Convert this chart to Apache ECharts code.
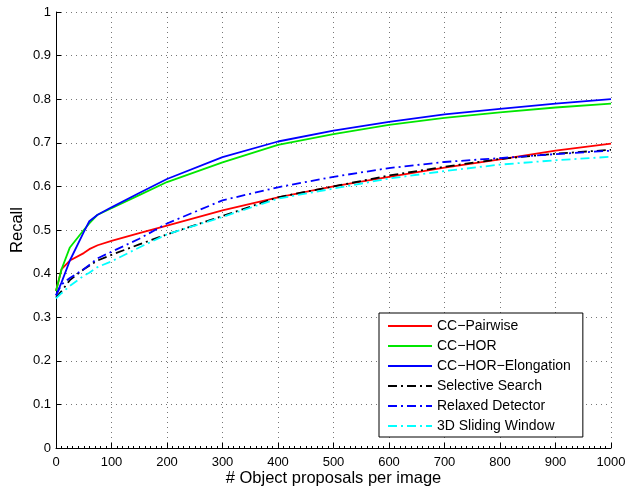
<!DOCTYPE html>
<html>
<head>
<meta charset="utf-8">
<script src="https://cdn.jsdelivr.net/npm/echarts@6/dist/echarts.min.js"></script>
<style>html,body{margin:0;padding:0;background:#fff;}#c{width:625px;height:489px;}</style>
</head>
<body>
<div id="c"></div>
<script>
const xs = [0,10,25,50,60,75,100,150,200,300,400,500,600,700,800,900,1000];
const ccPairwise = [0.36,0.41,0.43,0.447,0.456,0.465,0.475,0.493,0.51,0.545,0.575,0.60,0.622,0.643,0.662,0.682,0.698];
const ccHor = [0.36,0.41,0.46,0.50,0.515,0.535,0.55,0.58,0.61,0.655,0.695,0.72,0.741,0.757,0.77,0.781,0.79];
const ccHorElong = [0.35,0.38,0.43,0.495,0.52,0.535,0.552,0.585,0.617,0.667,0.703,0.728,0.748,0.765,0.778,0.79,0.80];
const selSearch = [0.345,0.36,0.385,0.41,0.418,0.43,0.443,0.467,0.49,0.532,0.575,0.60,0.625,0.645,0.663,0.675,0.684];
const relaxed = [0.35,0.375,0.39,0.41,0.42,0.435,0.45,0.48,0.515,0.568,0.598,0.622,0.642,0.656,0.665,0.674,0.682];
const sliding3d = [0.343,0.355,0.372,0.395,0.402,0.415,0.428,0.46,0.49,0.53,0.572,0.595,0.618,0.635,0.65,0.66,0.668];
const seriesNames = ['CC\u2212Pairwise','CC\u2212HOR','CC\u2212HOR\u2212Elongation','Selective Search','Relaxed Detector','3D Sliding Window'];

const FONT = 'Liberation Sans, Arial, Helvetica, sans-serif';
const dashDot = [9,4,2,4];
function mk(name, vals, color, dash) {
  return {
    name: name, type: 'line', symbol: 'none', showSymbol: false,
    data: xs.map((x,i)=>[x, vals[i]]),
    lineStyle: {color: color, width: 1.8, type: dash ? dashDot : 'solid'},
    itemStyle: {color: color},
    z: 3
  };
}
const chart = echarts.init(document.getElementById('c'), null, {renderer:'canvas'});
chart.setOption({
  animation: false,
  backgroundColor: '#fff',
  grid: {left: 56, right: 14, top: 12, bottom: 41, containLabel: false, outerBoundsMode: 'none'},
  xAxis: {
    type: 'value', min: 0, max: 1000, interval: 100,
    name: '# Object proposals per image', nameLocation: 'middle', nameGap: 22,
    nameMoveOverlap: false,
    nameTextStyle: {fontFamily: FONT, fontSize: 16.5, color: '#000'},
    axisLine: {show: true, onZero: false, lineStyle: {color: '#000', width: 1}},
    axisTick: {show: true, inside: true, length: 5, lineStyle: {color: '#000'}},
    minorTick: {show: true, splitNumber: 10, length: 2, lineStyle: {color: '#000'}},
    axisLabel: {fontFamily: FONT, fontSize: 13, color: '#000', margin: 8,
      formatter: v => String(Math.round(v))},
    splitLine: {show: true, lineStyle: {color: '#777', type: [1,4], width: 1}}
  },
  yAxis: {
    type: 'value', min: 0, max: 1, interval: 0.1,
    name: 'Recall', nameLocation: 'middle', nameGap: 30,
    nameMoveOverlap: false,
    nameTextStyle: {fontFamily: FONT, fontSize: 16.5, color: '#000'},
    axisLine: {show: true, onZero: false, lineStyle: {color: '#000', width: 1}},
    axisTick: {show: true, inside: true, length: 5, lineStyle: {color: '#000'}},
    axisLabel: {fontFamily: FONT, fontSize: 13, color: '#000', margin: 5,
      formatter: v => (Math.round(v*10)/10).toString()},
    splitLine: {show: true, lineStyle: {color: '#777', type: [1,4], width: 1}}
  },
  legend: {
    orient: 'vertical', left: 379, top: 313,
    padding: [6, 12, 4, 8],
    itemGap: 6, itemWidth: 44, itemHeight: 14,
    borderColor: '#000', borderWidth: 1, backgroundColor: '#fff',
    itemStyle: {opacity: 0},
    textStyle: {fontFamily: FONT, fontSize: 14, color: '#000'},
    data: seriesNames
  },
  series: [
    mk(seriesNames[0], ccPairwise, '#ff0000', false),
    mk(seriesNames[1], ccHor, '#00e600', false),
    mk(seriesNames[2], ccHorElong, '#0000ff', false),
    mk(seriesNames[3], selSearch, '#000000', true),
    mk(seriesNames[4], relaxed, '#0000ff', true),
    mk(seriesNames[5], sliding3d, '#00ffff', true)
  ]
});
</script>
</body>
</html>
